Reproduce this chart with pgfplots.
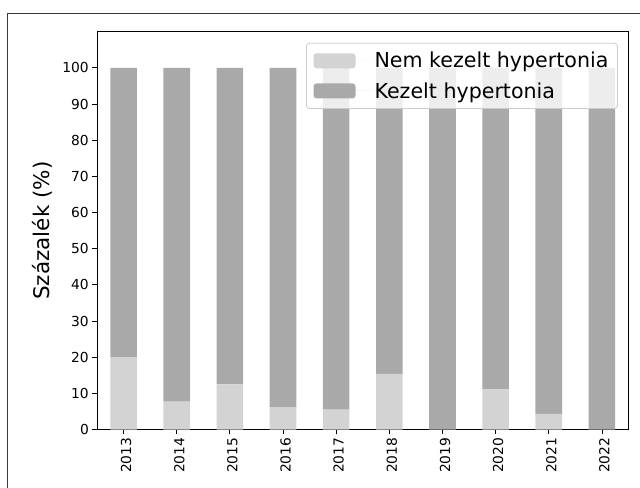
\documentclass[border=0pt]{standalone}
\usepackage{fontspec}
\setmainfont{DejaVu Sans}
\usepackage{pgfplots}
\pgfplotsset{compat=1.18}
\definecolor{nemk}{HTML}{D3D3D3}
\definecolor{kez}{HTML}{A9A9A9}
\definecolor{legframe}{HTML}{CCCCCC}
\definecolor{figframe}{HTML}{3A3A3A}
\newcommand{\tk}[1]{\mbox{\fontsize{13.8bp}{16bp}\selectfont #1}}
\begin{document}
\begin{tikzpicture}
\path[use as bounding box] (0bp,0bp) rectangle (640bp,488bp);
\draw[line width=1bp, color=figframe] (7.5bp,0bp) -- (7.5bp,474.7bp) -- (640bp,474.7bp);
\begin{axis}[
  at={(97bp,58.5bp)}, anchor=south west,
  scale only axis, width=531.5bp, height=397.8bp,
  ybar stacked, bar width=0.5,
  xmin=-0.5, xmax=9.5, ymin=0, ymax=110,
  xtick={0,1,2,3,4,5,6,7,8,9},
  xticklabels={\tk{2013},\tk{2014},\tk{2015},\tk{2016},\tk{2017},\tk{2018},\tk{2019},\tk{2020},\tk{2021},\tk{2022}},
  ytick={0,10,20,30,40,50,60,70,80,90,100},
  yticklabels={\tk{0},\tk{10},\tk{20},\tk{30},\tk{40},\tk{50},\tk{60},\tk{70},\tk{80},\tk{90},\tk{100}},
  tick align=outside, xtick pos=bottom, ytick pos=left,
  major tick length=4.7bp,
  tick style={black, line width=0.8bp},
  axis line style={black, line width=0.8bp},
  x tick label style={rotate=90, anchor=east, yshift=-2.5bp},
  /pgf/number format/assume math mode=true,
  ylabel={Százalék (\%)},
  ylabel style={font=\fontsize{21.5bp}{25bp}\selectfont, at={(axis description cs:-0.089,0.5)}, anchor=base},
  legend cell align=left,
  legend image code/.code={\path (0bp,0bp) -- (59bp,0bp); \path[#1, draw=none, fill opacity=1] (0bp,-7.5bp) rectangle (42bp,7.5bp);},
  legend style={at={(0.980,0.972)}, anchor=north east,
    fill=white, fill opacity=0.8, draw opacity=1, text opacity=1,
    draw=legframe, line width=0.8bp, rounded corners=3bp,
    font=\fontsize{20.6bp}{24bp}\selectfont,
    inner xsep=7bp, inner ysep=7bp, row sep=9bp},
]
\addplot[fill=nemk, draw=none] coordinates {(0,20) (1,7.69) (2,12.5) (3,6.2) (4,5.5) (5,15.4) (6,0) (7,11.1) (8,4.35) (9,0)};
\addplot[fill=kez, draw=none] coordinates {(0,80) (1,92.31) (2,87.5) (3,93.8) (4,94.5) (5,84.6) (6,100) (7,88.9) (8,95.65) (9,100)};
\legend{Nem kezelt hypertonia, Kezelt hypertonia}
\end{axis}
\end{tikzpicture}
\end{document}
